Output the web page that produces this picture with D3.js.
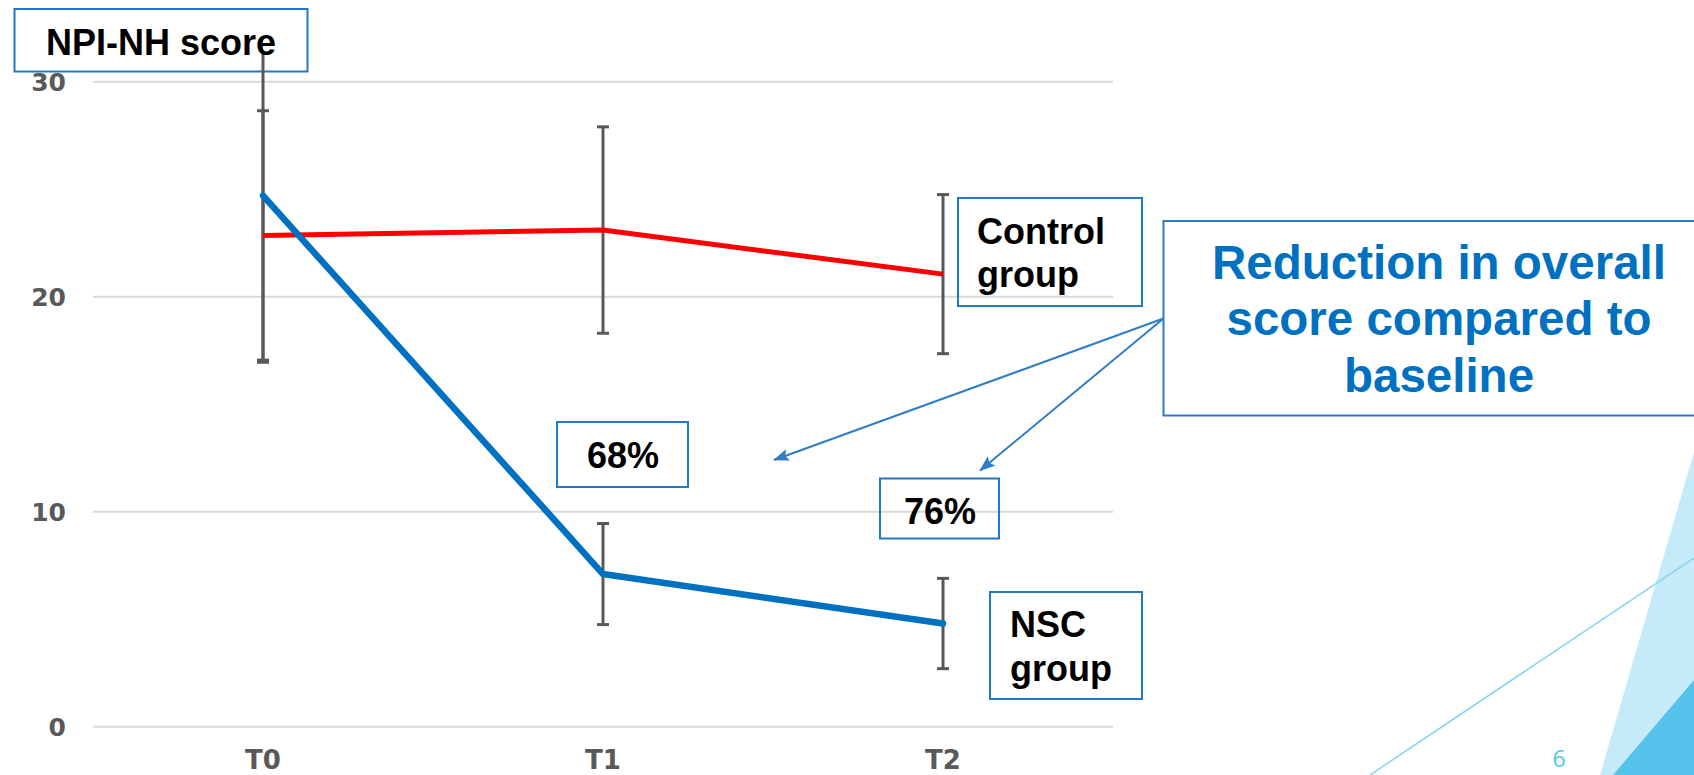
<!DOCTYPE html>
<html>
<head>
<meta charset="utf-8">
<script src="https://cdn.jsdelivr.net/npm/d3@7"></script>
<style>
  html, body { margin: 0; padding: 0; background: #ffffff; }
  svg { display: block; }
</style>
</head>
<body>
<svg id="chart" width="1694" height="775"></svg>
<script>
// Time points and tick values
const categories = ["T0", "T1", "T2"];
const yTicks = [0, 10, 20, 30];

// NPI-NH score: mean and error (± half-range) per time point
const controlMean = [22.85, 23.1, 21.05];
const controlErr  = [5.8, 4.8, 3.7];
const nscMean     = [24.7, 7.1, 4.8];
const nscErr      = [7.75, 2.35, 2.1];

// Reduction labels
const reductionLabels = ["68%", "76%"];

const svg = d3.select("#chart");

// Background decoration (bottom-right corner)
svg.append("polygon")
  .attr("points", "1694,452 1694,775 1600,775")
  .attr("fill", "#C6EBF8");
svg.append("line")
  .attr("x1", 1370).attr("y1", 775).attr("x2", 1694).attr("y2", 558)
  .attr("stroke", "#86D2F0").attr("stroke-width", 1.5);
svg.append("polygon")
  .attr("points", "1694,680 1694,775 1613,775")
  .attr("fill", "#55C3EB");
svg.append("text")
  .attr("x", 1559).attr("y", 767)
  .attr("text-anchor", "middle")
  .attr("font-family", "'Open Sans', sans-serif")
  .attr("font-size", 23)
  .attr("fill", "#58C4EC")
  .text("6");

// Scales
const x = d3.scaleBand().domain(categories).range([93, 1113]).paddingInner(0).paddingOuter(0);
const cx = d => x(d) + x.bandwidth() / 2;
const y = d3.scaleLinear().domain([0, 30]).range([726.7, 81.7]);

// Gridlines
svg.append("g").selectAll("line").data(yTicks).join("line")
  .attr("x1", 93).attr("x2", 1113)
  .attr("y1", d => y(d)).attr("y2", d => y(d))
  .attr("stroke", "#D9D9D9").attr("stroke-width", 2);

// Y axis labels
const yAxis = d3.axisLeft(y).tickValues(yTicks).tickSize(0).tickPadding(0);
const yg = svg.append("g").attr("transform", "translate(66,0)").call(yAxis);
yg.select(".domain").remove();
yg.selectAll("text")
  .attr("font-family", "'DejaVu Sans', sans-serif")
  .attr("font-weight", "bold")
  .attr("font-size", 25)
  .attr("fill", "#595959")
  .attr("dy", "0.36em");

// X axis labels
const xAxis = d3.axisBottom(x).tickSize(0).tickPadding(0);
const xg = svg.append("g").attr("transform", "translate(0,769)").call(xAxis);
xg.select(".domain").remove();
xg.selectAll("text")
  .attr("font-family", "'DejaVu Sans', sans-serif")
  .attr("font-weight", "bold")
  .attr("font-size", 26)
  .attr("fill", "#595959")
  .attr("y", 0)
  .attr("dy", 0);

// Plot-area clip (error bars are cut at the top of the plot)
svg.append("clipPath").attr("id", "plotClip")
  .append("rect").attr("x", 80).attr("y", 52).attr("width", 1060).attr("height", 700);

// "NPI-NH score" title box (outline only)
svg.append("rect")
  .attr("x", 14.5).attr("y", 9).attr("width", 293).attr("height", 62.5)
  .attr("fill", "none").attr("stroke", "#2178C6").attr("stroke-width", 2);

// Error bars
function errorBars(mean, err, cls) {
  const g = svg.append("g").attr("class", cls).attr("clip-path", "url(#plotClip)");
  const data = categories.map((c, i) => ({ c, lo: mean[i] - err[i], hi: mean[i] + err[i] }));
  g.selectAll("line.stem").data(data).join("line").attr("class", "stem")
    .attr("x1", d => cx(d.c)).attr("x2", d => cx(d.c))
    .attr("y1", d => y(d.hi)).attr("y2", d => y(d.lo))
    .attr("stroke", "#595959").attr("stroke-width", 3);
  ["hi", "lo"].forEach(k => {
    g.selectAll("line.cap-" + k).data(data).join("line").attr("class", "cap-" + k)
      .attr("x1", d => cx(d.c) - 6).attr("x2", d => cx(d.c) + 6)
      .attr("y1", d => y(d[k])).attr("y2", d => y(d[k]))
      .attr("stroke", "#595959").attr("stroke-width", 3);
  });
}
errorBars(controlMean, controlErr, "err-control");
errorBars(nscMean, nscErr, "err-nsc");

// Series lines
const line = d3.line().x(d => cx(d.c)).y(d => y(d.v));
svg.append("path")
  .datum(categories.map((c, i) => ({ c, v: controlMean[i] })))
  .attr("d", line)
  .attr("fill", "none").attr("stroke", "#FF0000").attr("stroke-width", 5)
  .attr("stroke-linejoin", "round");
svg.append("path")
  .datum(categories.map((c, i) => ({ c, v: nscMean[i] })))
  .attr("d", line)
  .attr("fill", "none").attr("stroke", "#0070C0").attr("stroke-width", 6.5)
  .attr("stroke-linejoin", "round").attr("stroke-linecap", "round");

// Title text
svg.append("text")
  .attr("x", 161).attr("y", 55)
  .attr("text-anchor", "middle")
  .attr("font-family", "'Liberation Sans', Arial, sans-serif")
  .attr("font-weight", "bold").attr("font-size", 36)
  .attr("fill", "#000000")
  .text("NPI-NH score");

// Generic outlined label box
function labelBox(bx, by, bw, bh, lines, opts) {
  svg.append("rect")
    .attr("x", bx).attr("y", by).attr("width", bw).attr("height", bh)
    .attr("fill", "none").attr("stroke", opts.stroke || "#2178C6").attr("stroke-width", 2);
  const t = svg.append("text")
    .attr("font-family", "'Liberation Sans', Arial, sans-serif")
    .attr("font-weight", "bold").attr("font-size", opts.size)
    .attr("fill", opts.color || "#000000")
    .attr("text-anchor", opts.anchor || "middle");
  lines.forEach((s, i) => {
    t.append("tspan")
      .attr("x", opts.tx)
      .attr("y", opts.ty + i * (opts.lh || 0))
      .text(s);
  });
}

labelBox(557, 422, 131, 65, [reductionLabels[0]], { size: 36, tx: 623, ty: 468 });
labelBox(880, 478.5, 119, 60, [reductionLabels[1]], { size: 36, tx: 940, ty: 524 });
labelBox(958, 198, 184, 108, ["Control", "group"], { size: 36, tx: 977, ty: 243.5, lh: 43.5, anchor: "start" });
labelBox(990, 592, 152, 107, ["NSC", "group"], { size: 36, tx: 1010, ty: 637, lh: 43.5, anchor: "start" });
labelBox(1163.5, 221, 560, 194.5,
  ["Reduction in overall", "score compared to", "baseline"],
  { size: 47.5, tx: 1439, ty: 278.7, lh: 56.7, color: "#0070C0", stroke: "#2E7BC4" });

// Arrows from the reduction box to the labels
const defs = svg.append("defs");
defs.append("marker")
  .attr("id", "arrowHead")
  .attr("markerUnits", "userSpaceOnUse")
  .attr("viewBox", "0 0 16 12")
  .attr("refX", 15).attr("refY", 6)
  .attr("markerWidth", 16).attr("markerHeight", 12)
  .attr("orient", "auto")
  .append("path").attr("d", "M0,0 L16,6 L0,12 L3,6 Z").attr("fill", "#2E7DC6");

const arrows = [
  { x1: 1163.5, y1: 318.5, x2: 774, y2: 460 },
  { x1: 1163.5, y1: 318.5, x2: 980, y2: 470.5 }
];
svg.selectAll("line.arrow").data(arrows).join("line").attr("class", "arrow")
  .attr("x1", d => d.x1).attr("y1", d => d.y1)
  .attr("x2", d => d.x2).attr("y2", d => d.y2)
  .attr("stroke", "#2E7DC6").attr("stroke-width", 2)
  .attr("marker-end", "url(#arrowHead)");
</script>
</body>
</html>
